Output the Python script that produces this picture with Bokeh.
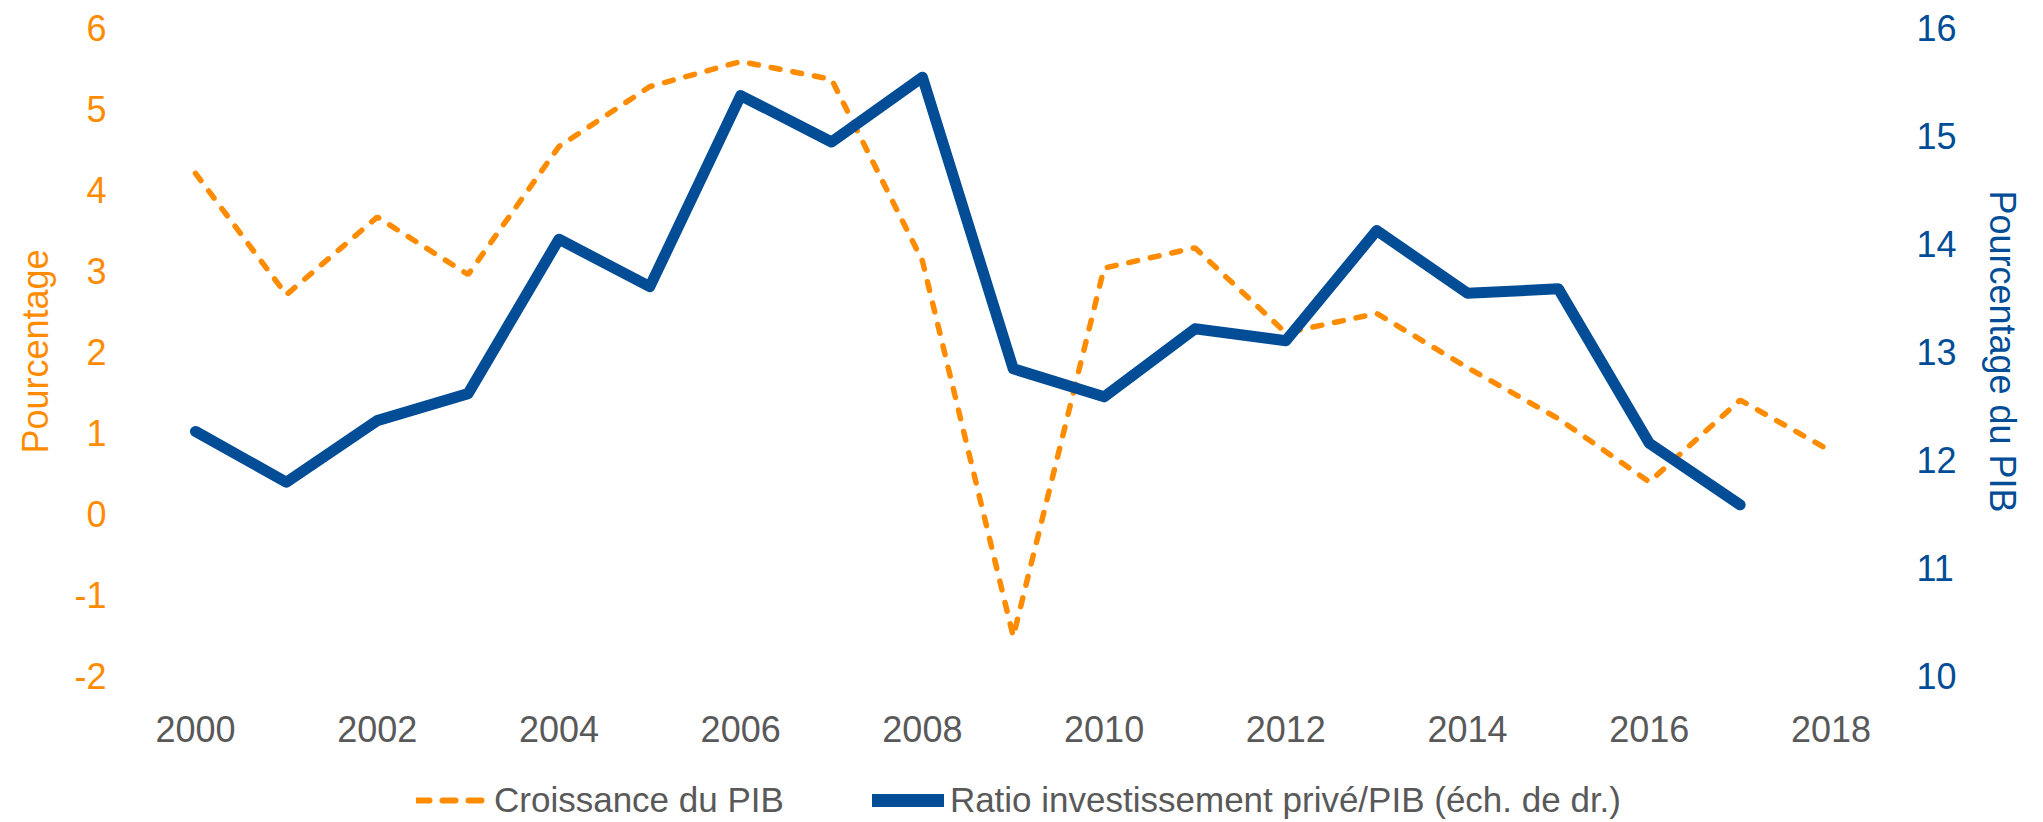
from bokeh.plotting import figure
from bokeh.layouts import column
from bokeh.models import Range1d, LinearAxis, Legend, LegendItem, FixedTicker, ColumnDataSource
from bokeh.embed import file_html
from bokeh.resources import INLINE

years = list(range(2000, 2019))
gdp_growth = [4.2, 2.7, 3.66, 2.95, 4.53, 5.27, 5.58, 5.36, 3.12, -1.52,
              3.03, 3.28, 2.23, 2.47, 1.8, 1.17, 0.39, 1.4, 0.77]
invest_years = list(range(2000, 2018))
invest_ratio = [12.26, 11.79, 12.36, 12.61, 14.04, 13.60, 15.37, 14.94, 15.54,
                12.84, 12.58, 13.21, 13.10, 14.12, 13.54, 13.58, 12.15, 11.58]
x_ticks = list(range(2000, 2019, 2))
left_ticks = list(range(-2, 7))
right_ticks = list(range(10, 17))
label_g = "Croissance du PIB"
label_i = "Ratio investissement privé/PIB (éch. de dr.)"

ORANGE = "#FF8C00"
BLUE = "#024D96"
GREY = "#595959"
FONT = "Liberation Sans"
FS_TICK = "36px"
FS_TEXT = "36px"
FS_LEG = "35px"
W = 2027

p = figure(width=W, height=752, output_backend="svg", toolbar_location=None,
           x_range=Range1d(1999.2186, 2018.4017), y_range=Range1d(-2, 6),
           min_border_left=124, min_border_right=160, min_border_top=27,
           min_border_bottom=77)
p.extra_y_ranges = {"right": Range1d(10, 16)}
p.outline_line_color = None
p.xgrid.visible = False
p.ygrid.visible = False

src_g = ColumnDataSource(dict(x=years, y=gdp_growth))
src_i = ColumnDataSource(dict(x=invest_years, y=invest_ratio))

g_style = dict(line_color=ORANGE, line_width=5.5, line_dash="9 13", line_cap="round")
i_style = dict(line_color=BLUE, line_width=11, line_cap="round", line_join="round")

p.line("x", "y", source=src_g, **g_style)
p.line("x", "y", source=src_i, y_range_name="right", **i_style)

# x axis
xa = p.xaxis[0]
xa.ticker = FixedTicker(ticks=x_ticks)
xa.axis_line_color = None
xa.major_tick_line_color = None
xa.minor_tick_line_color = None
xa.major_label_text_font = FONT
xa.major_label_text_font_size = FS_TICK
xa.major_label_text_color = GREY
xa.major_label_standoff = 34

# left axis
ya = p.yaxis[0]
ya.ticker = FixedTicker(ticks=left_ticks)
ya.major_label_overrides = {t: str(t) for t in left_ticks}
ya.axis_line_color = None
ya.major_tick_line_color = None
ya.minor_tick_line_color = None
ya.major_label_text_font = FONT
ya.major_label_text_font_size = FS_TICK
ya.major_label_text_color = ORANGE
ya.major_label_standoff = 12
ya.axis_label = "Pourcentage"
ya.axis_label_text_font = FONT
ya.axis_label_text_font_size = FS_TEXT
ya.axis_label_text_font_style = "normal"
ya.axis_label_text_color = ORANGE
ya.axis_label_standoff = 15

# right axis
ra = LinearAxis(y_range_name="right", ticker=FixedTicker(ticks=right_ticks))
ra.axis_line_color = None
ra.major_tick_line_color = None
ra.minor_tick_line_color = None
ra.major_label_text_font = FONT
ra.major_label_text_font_size = FS_TICK
ra.major_label_text_color = BLUE
ra.major_label_standoff = 43
ra.axis_label = "Pourcentage du PIB"
ra.axis_label_text_font = FONT
ra.axis_label_text_font_size = FS_TEXT
ra.axis_label_text_font_style = "normal"
ra.axis_label_text_color = BLUE
ra.axis_label_standoff = 22
p.add_layout(ra, "right")

# legend strip under the chart (same data, outside its view, only the legend shows)
lf = figure(width=W, height=68, output_backend="svg", toolbar_location=None,
            x_range=Range1d(0, 1), y_range=Range1d(0, 1),
            x_axis_location=None, y_axis_location=None,
            min_border_left=0, min_border_right=0, min_border_top=0,
            min_border_bottom=0)
lf.outline_line_color = None
lf.xgrid.visible = False
lf.ygrid.visible = False
lg = lf.line("x", "y", source=src_g, line_color=ORANGE, line_width=6,
             line_dash="13 13", line_cap="round")
li = lf.line("x", "y", source=src_i, line_color=BLUE, line_width=13,
             line_cap="round")

legend = Legend(items=[
    LegendItem(label=label_g, renderers=[lg]),
    LegendItem(label=label_i, renderers=[li]),
], orientation="horizontal", location=(292, 0))
legend.label_text_font = FONT
legend.label_text_font_size = FS_LEG
legend.label_text_color = GREY
legend.glyph_width = 72
legend.label_standoff = 6
legend.spacing = 88
legend.border_line_color = None
legend.background_fill_alpha = 0
legend.margin = 0
legend.padding = 0
lf.add_layout(legend, "center")

layout = column(p, lf, spacing=0)
open("out.html", "w").write(file_html(layout, INLINE))
